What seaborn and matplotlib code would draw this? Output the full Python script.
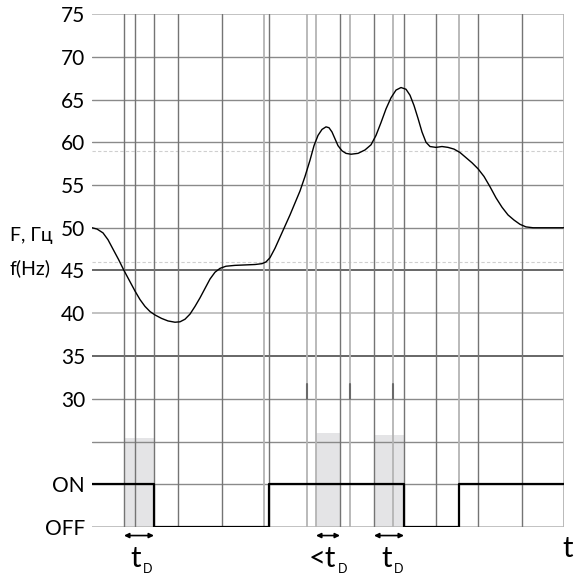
import matplotlib
matplotlib.use("Agg")
import matplotlib.pyplot as plt
import seaborn as sns
import pandas as pd

# frequency curve (time in arbitrary units, F in Hz)
t_curve = [0, 5, 11, 16, 21, 26.5, 32, 37.5, 43, 48, 53, 58, 63, 69.5, 76, 83, 88, 93, 98,
           103, 108, 113, 118, 123, 128, 134, 143, 153, 163, 170, 174, 178, 183, 188, 193,
           198, 203, 208, 213, 218, 222, 226, 230, 234, 237, 240, 243, 246, 250, 254, 259,
           266, 273, 279, 284, 289, 294, 299, 304, 309, 314, 318, 322, 326, 330, 334, 338,
           344, 350, 356, 362, 368, 374, 380, 386, 392, 398, 404, 410, 416, 422, 428, 434,
           441, 472]
f_curve = [50.0, 49.85, 49.4, 48.6, 47.5, 46.3, 45.0, 43.8, 42.6, 41.6, 40.8, 40.2, 39.8,
           39.4, 39.1, 38.95, 39.0, 39.3, 39.9, 40.8, 41.8, 42.9, 44.0, 44.8, 45.25, 45.5,
           45.6, 45.65, 45.7, 45.8, 46.0, 46.5, 47.6, 48.9, 50.2, 51.5, 52.9, 54.3, 56.0,
           57.9, 59.6, 60.8, 61.5, 61.8, 61.7, 61.2, 60.4, 59.6, 59.0, 58.7, 58.6, 58.7, 59.1,
           59.7, 60.8, 62.3, 63.9, 65.2, 66.1, 66.4, 66.2, 65.5, 64.3, 62.8, 61.2, 60.0, 59.5,
           59.4, 59.5, 59.4, 59.2, 58.8, 58.2, 57.6, 56.9, 56.0, 54.8, 53.5, 52.4, 51.5, 50.9,
           50.4, 50.1, 50.0, 50.0]

# relay output: 20 = ON, 15 = OFF
t_relay = [0, 62, 177, 312, 367, 472]
relay = [20, 15, 20, 15, 20, 20]

# vertical grid lines
v_dark = [32, 43, 62, 86, 130, 177, 248, 282, 312, 344, 386, 430]
v_light = [172, 215, 224, 258, 301, 367, 472]
tick_marks = [215, 258, 301]

# horizontal grid lines
h_dark = [45, 35]
h_mid = [70, 65, 60, 55, 50, 30, 25, 20]
h_light = [75, 40, 15]
h_dashed = [59, 46]

# delay windows
delay_start = [32, 224, 282]
delay_end = [62, 248, 312]
delay_top = [25.4, 26.0, 25.8]
delay_text = ["t", "<t", "t"]
label_shift = [2, 8, 3]

yticks = [15, 20, 30, 35, 40, 45, 50, 55, 60, 65, 70, 75]
ylabels = ["OFF", "ON", "30", "35", "40", "45", "50", "55", "60", "65", "70", "75"]

sns.set_style("white")
plt.rcParams["font.family"] = ["Lato", "DejaVu Sans"]
plt.rcParams["text.color"] = "black"
plt.rcParams["ytick.color"] = "black"

fig = plt.figure(figsize=(5.76, 5.75), dpi=100)
ax = fig.add_axes([92 / 576, 1 - 527 / 575, 472 / 576, 513 / 575])

for s, e, top in zip(delay_start, delay_end, delay_top):
    ax.fill_between([s, e], 15, top, color="#e4e4e6", lw=0, zorder=0)

for y in h_mid:
    ax.axhline(y, color="#8a8a8a", lw=1.0, zorder=1)
for y in h_light:
    ax.axhline(y, color="#b8b8b8", lw=1.2, zorder=1)
for y in h_dark:
    ax.axhline(y, color="#5a5a5a", lw=1.3, zorder=1)
for y in h_dashed:
    ax.axhline(y, color="#cfcfcf", lw=0.8, ls=(0, (3, 2)), zorder=1)
for x in v_dark:
    ax.axvline(x, color="#747474", lw=1.0, zorder=1)
for x in v_light:
    ax.axvline(x, color="#b4b4b4", lw=1.3, zorder=1)
for x in tick_marks:
    ax.plot([x, x], [30, 31.7], color="#6a6a6a", lw=1.5, zorder=2)

curve = pd.DataFrame({"t": t_curve, "F": f_curve})
sns.lineplot(data=curve, x="t", y="F", ax=ax, color="black", lw=1.0,
             sort=False, estimator=None, zorder=3)

sig = pd.DataFrame({"t": t_relay, "state": relay})
sns.lineplot(data=sig, x="t", y="state", ax=ax, color="black", lw=1.6,
             drawstyle="steps-post", sort=False, estimator=None, zorder=3)

for s, e, txt, sh in zip(delay_start, delay_end, delay_text, label_shift):
    ax.annotate("", xy=(s, 14.0), xytext=(e, 14.0), annotation_clip=False,
                arrowprops=dict(arrowstyle="<|-|>", color="black", lw=1.2,
                                mutation_scale=7, shrinkA=0, shrinkB=0))
    mid = (s + e) / 2 + sh
    ax.annotate(txt, xy=(mid, 11.2), ha="right", va="center", fontsize=21,
                annotation_clip=False)
    ax.annotate("D", xy=(mid, 10.1), xytext=(1, 0), textcoords="offset points",
                ha="left", va="center", fontsize=9, annotation_clip=False)

ax.text(476, 12.4, "t", ha="center", va="center", fontsize=21, clip_on=False)

ax.set_xlim(0, 472)
ax.set_ylim(15, 75)
ax.set_xticks([])
ax.set_yticks(yticks)
ax.set_yticklabels(ylabels, fontsize=15)
ax.tick_params(axis="y", length=0, pad=5, colors="black")
ax.set_xlabel("")
ax.set_ylabel("")
sns.despine(ax=ax, left=True, bottom=True)

fig.text(10 / 576, 1 - 236 / 575, "F, Гц", fontsize=14, va="center", ha="left")
fig.text(10 / 576, 1 - 268 / 575, "f(Hz)", fontsize=14, va="center", ha="left")

fig.savefig("out.png", dpi=100)
